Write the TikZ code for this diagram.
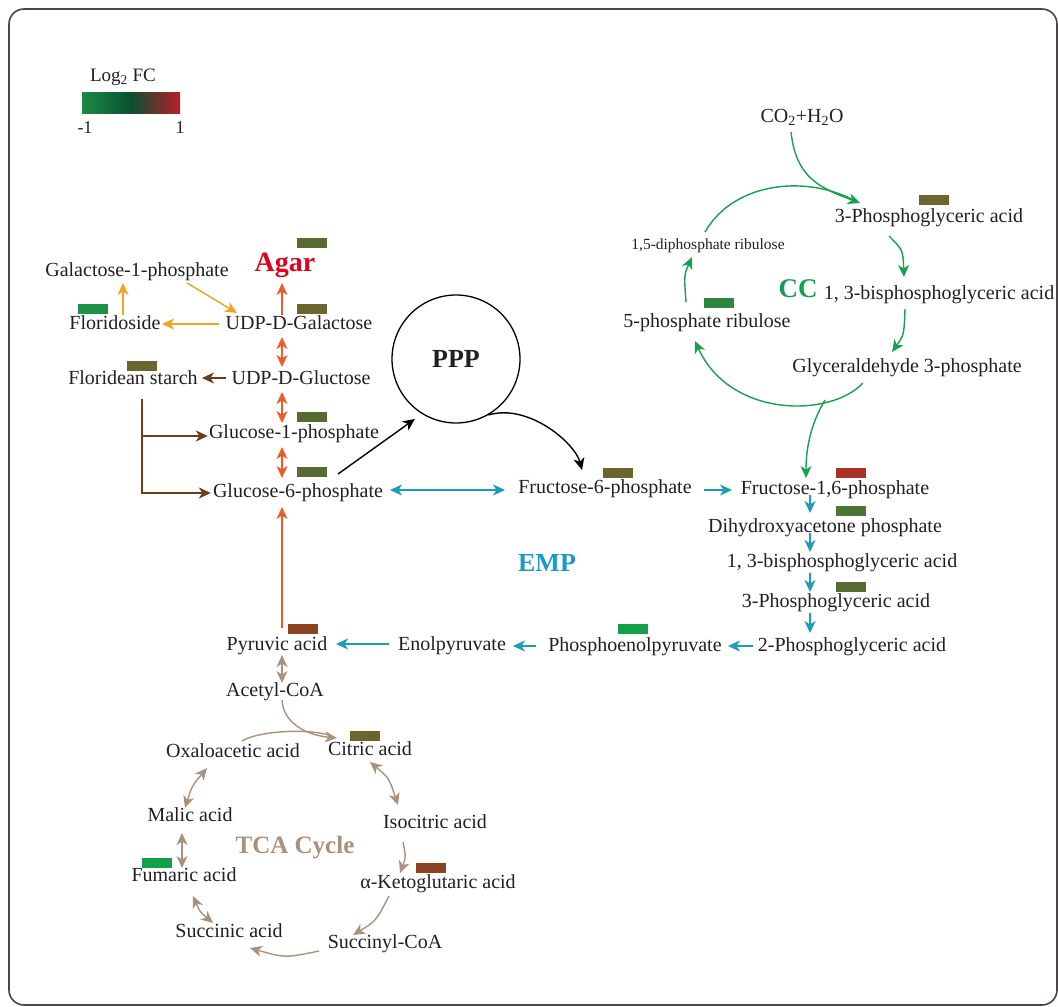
\documentclass[tikz,border=0pt]{standalone}
\usepackage{fontspec}
\setmainfont{Liberation Serif}
\usetikzlibrary{arrows.meta,calc}
\definecolor{txt}{HTML}{231F20}
\definecolor{frame}{HTML}{4D4545}
\definecolor{agarred}{HTML}{E3001B}
\definecolor{empcyan}{HTML}{1A9AC8}
\definecolor{ccgreen}{HTML}{12A050}
\definecolor{tcatan}{HTML}{A8927E}
\definecolor{orangeA}{HTML}{F2A324}
\definecolor{redA}{HTML}{F05A28}
\definecolor{brownA}{HTML}{6B3E1A}
\definecolor{cyanA}{HTML}{1E9BB5}
\definecolor{greenA}{HTML}{16A050}
\definecolor{oliveA}{HTML}{6B6530}
\definecolor{oliveB}{HTML}{566B32}
\definecolor{fgreen}{HTML}{1F9048}
\definecolor{mgreen}{HTML}{2E8540}
\definecolor{dgreen}{HTML}{4A7535}
\definecolor{bgreen}{HTML}{12A04A}
\definecolor{redbar}{HTML}{A83226}
\definecolor{brownbar}{HTML}{8B4422}
\definecolor{lgL}{HTML}{1B8A45}
\definecolor{lgM}{HTML}{0A5030}
\definecolor{lgR}{HTML}{B81E2A}
\begin{document}
\begin{tikzpicture}[x=1pt,y=-1pt,
  lbl/.style={font=\fontsize{20}{24}\selectfont, text=txt, inner sep=0pt, text height=14pt, text depth=4pt},
  bold/.style={inner sep=0pt, text depth=0pt},
  bar/.style={inner sep=0pt, minimum width=30pt, minimum height=10pt, draw=none},
  conn/.style={line width=1.4pt},
  tip/.style={conn, -{Stealth[length=12pt,width=11pt,inset=3.5pt]}},
  dtip/.style={conn, {Stealth[length=12pt,width=11pt,inset=3.5pt]}-{Stealth[length=12pt,width=11pt,inset=3.5pt]}}
]
\useasboundingbox (0,0) rectangle (1058,1007);
\draw[frame, line width=1.6pt, rounded corners=15pt] (9,9) rectangle (1057,1005);

% legend
\node[font=\fontsize{19}{22}\selectfont, text=txt, inner sep=0pt] (lfc) at (123,77) {Log\textsubscript{2} FC};
\node[inner sep=0pt, minimum width=98pt, minimum height=21pt, left color=lgL, right color=lgR, middle color=lgM] (lgbar) at (131,102.5) {};
\node[font=\fontsize{18}{20}\selectfont, text=txt, inner sep=0pt] (lmin) at (85,128) {-1};
\node[font=\fontsize{18}{20}\selectfont, text=txt, inner sep=0pt] (lmax) at (180,128) {1};

% Agar part
\node[lbl] (gal1p) at (137,271) {Galactose-1-phosphate};
\node[bold, font=\bfseries\fontsize{28}{30}\selectfont, text=agarred, text height=19pt] (agar) at (285,261.5) {Agar};
\node[lbl] (flor) at (115,324) {Floridoside};
\node[lbl] (udpgal) at (299,324) {UDP-D-Galactose};
\node[lbl] (fstarch) at (133,379) {Floridean starch};
\node[lbl] (udpglc) at (301,379) {UDP-D-Gluctose};
\node[lbl] (g1p) at (294,433) {Glucose-1-phosphate};
\node[lbl] (g6p) at (298,492) {Glucose-6-phosphate};

% PPP
\node[draw=black, circle, line width=1.3pt, minimum size=128pt, inner sep=0pt, font=\bfseries\fontsize{26}{28}\selectfont, text=txt] (ppp) at (456,359) {PPP};

% EMP
\node[lbl] (f6p) at (605,488) {Fructose-6-phosphate};
\node[lbl] (f16p) at (835,489) {Fructose-1,6-phosphate};
\node[lbl] (dhap) at (825,527) {Dihydroxyacetone phosphate};
\node[lbl] (bpg) at (842,562) {1, 3-bisphosphoglyceric acid};
\node[lbl] (pga) at (836,602) {3-Phosphoglyceric acid};
\node[lbl] (pga2) at (852,646) {2-Phosphoglyceric acid};
\node[lbl] (pep) at (635,646) {Phosphoenolpyruvate};
\node[lbl] (enol) at (452,645) {Enolpyruvate};
\node[lbl] (pyr) at (277,645) {Pyruvic acid};
\node[bold, font=\bfseries\fontsize{26}{28}\selectfont, text=empcyan, text height=17pt] (emp) at (547,563) {EMP};

% TCA
\node[lbl] (acoa) at (275,691) {Acetyl-CoA};
\node[lbl] (cit) at (370,750) {Citric acid};
\node[lbl] (oxa) at (233,752) {Oxaloacetic acid};
\node[lbl] (iso) at (435,823) {Isocitric acid};
\node[lbl] (akg) at (438,883) {α-Ketoglutaric acid};
\node[lbl] (succoa) at (385,943) {Succinyl-CoA};
\node[lbl] (succ) at (229,932) {Succinic acid};
\node[lbl] (fum) at (184,876) {Fumaric acid};
\node[lbl] (mal) at (190,816) {Malic acid};
\node[bold, font=\bfseries\fontsize{25}{27}\selectfont, text=tcatan, text height=16.5pt] (tca) at (295,845) {TCA Cycle};

% CC
\node[lbl] (co2) at (802,117) {CO\textsubscript{2}+H\textsubscript{2}O};
\node[lbl] (cpga) at (929,217) {3-Phosphoglyceric acid};
\node[bold, font=\bfseries\fontsize{27}{29}\selectfont, text=ccgreen, text height=18pt] (cc) at (798,288) {CC};
\node[lbl] (cbpg) at (939,294) {1, 3-bisphosphoglyceric acid};
\node[lbl] (ga3p) at (907,367) {Glyceraldehyde 3-phosphate};
\node[lbl] (ru5p) at (707,322) {5-phosphate ribulose};
\node[lbl, font=\fontsize{15.5}{18}\selectfont, text height=11pt, text depth=3pt] (rubp) at (708,245) {1,5-diphosphate ribulose};

% bars
\node[bar, fill=oliveB] (bagar) at (312,243) {};
\node[bar, fill=oliveA] (budpgal) at (312,309) {};
\node[bar, fill=fgreen] (bflor) at (93,309) {};
\node[bar, fill=oliveA] (bfstarch) at (142,366) {};
\node[bar, fill=oliveB] (bg1p) at (312,417) {};
\node[bar, fill=oliveB] (bg6p) at (312,472) {};
\node[bar, fill=oliveA] (bf6p) at (618,473) {};
\node[bar, fill=redbar] (bf16p) at (851,473) {};
\node[bar, fill=dgreen] (bdhap) at (851,511) {};
\node[bar, fill=oliveB] (bpga) at (851,587) {};
\node[bar, fill=bgreen] (bpep) at (633,629) {};
\node[bar, fill=brownbar] (bpyr) at (303,629) {};
\node[bar, fill=oliveA] (bcit) at (365,736) {};
\node[bar, fill=brownbar] (bakg) at (431,868) {};
\node[bar, fill=bgreen] (bfum) at (157,863) {};
\node[bar, fill=oliveA] (bcpga) at (934,200) {};
\node[bar, fill=mgreen] (bru5p) at (719,303) {};

% Agar connectors
\draw[orangeA, tip] ($(flor)+(8,-9)$) -- ($(gal1p)+(-14,12)$);
\draw[orangeA, tip] ($(gal1p)+(50,12)$) -- ($(udpgal)+(-62,-11)$);
\draw[orangeA, tip] ($(udpgal)+(-80,0)$) -- ($(flor)+(47,0)$);
\draw[redA, tip] ($(udpgal)+(-17,-9)$) -- ($(agar)+(-3,21.5)$);
\draw[redA, dtip] ($(udpgal)+(-17,13)$) -- ($(udpglc)+(-19,-12)$);
\draw[brownA, tip] ($(udpglc)+(-75,-1)$) -- ($(fstarch)+(69,-1)$);
\draw[redA, dtip] ($(udpglc)+(-19,13)$) -- ($(g1p)+(-12,-10)$);
\draw[redA, dtip] ($(g1p)+(-12,14)$) -- ($(g6p)+(-16,-14)$);
\coordinate (fsx) at ($(fstarch)+(9,20)$);
\draw[brownA, tip] (fsx) |- ($(g6p.west)+(-2,1)$);
\draw[brownA, tip] ($(fsx |- g1p)+(0,3)$) -- ($(g1p.west)+(-1,3)$);

% PPP connectors
\draw[black, tip] ($(g6p)+(40,-18)$) -- ($(ppp.235)+(-4,7)$);
\draw[black, tip] (ppp.-60) .. controls ($(ppp.-60)+(40,-12)$) and ($(f6p)+(-30,-45)$) .. ($(f6p)+(-23,-18)$);

% EMP connectors
\draw[cyanA, dtip] ($(g6p)+(92,-2)$) -- ($(f6p)+(-100,2)$);
\draw[cyanA, tip] ($(f6p)+(99,2)$) -- ($(f16p)+(-103,1)$);
\draw[cyanA, tip] ($(f16p)+(-25,6)$) -- ($(dhap)+(-15,-14)$);
\draw[cyanA, tip] ($(dhap)+(-15,6)$) -- ($(bpg)+(-32,-10)$);
\draw[cyanA, tip] ($(bpg)+(-32,11)$) -- ($(pga)+(-26,-10)$);
\draw[cyanA, tip] ($(pga)+(-26,11)$) -- ($(pga2)+(-42,-13)$);
\draw[cyanA, tip] ($(pga2)+(-99,0)$) -- ($(pep)+(93,0)$);
\draw[cyanA, tip] ($(pep)+(-99,0)$) -- ($(enol)+(61,1)$);
\draw[cyanA, tip] ($(enol)+(-63,-1)$) -- ($(pyr)+(59,-1)$);
\draw[redA, tip] ($(pyr)+(5,-17)$) -- ($(g6p)+(-16,15)$);

% TCA connectors
\draw[tcatan, dtip] ($(pyr)+(5,10)$) -- ($(acoa)+(7,-8)$);
\draw[tcatan, tip] ($(acoa)+(7,9)$) .. controls ($(acoa)+(8,31)$) and ($(cit)+(-65,-15)$) .. ($(cit)+(-33,-12)$);
\draw[tcatan, conn] ($(oxa)+(9,-11)$) .. controls ($(oxa)+(27,-22)$) and ($(cit)+(-55,-22)$) .. ($(cit)+(-36,-13)$);
\draw[tcatan, dtip] ($(cit)+(0,12)$) .. controls ($(cit)+(19,28)$) .. ($(iso)+(-37,-18)$);
\draw[tcatan, tip] ($(iso)+(-32,19)$) .. controls ($(iso)+(-29,34)$) .. ($(akg)+(-38,-10)$);
\draw[tcatan, tip] ($(akg)+(-49,13)$) .. controls ($(akg)+(-62,38)$) .. ($(succoa)+(-32,-8)$);
\draw[tcatan, tip] ($(succoa)+(-66,8)$) .. controls ($(succoa)+(-100,15)$) .. ($(succ)+(21,16)$);
\draw[tcatan, dtip] ($(succ)+(-16,-9)$) .. controls ($(succ)+(-29,-20)$) .. ($(fum)+(9,20)$);
\draw[tcatan, dtip] ($(fum)+(-2,-8)$) -- ($(mal)+(-8,17)$);
\draw[tcatan, dtip] ($(mal)+(-5,-8)$) .. controls ($(mal)+(2,-30)$) .. ($(oxa)+(-26,16)$);

% CC connectors
\draw[greenA, tip] ($(co2)+(-11,15)$) .. controls ($(co2)+(-6,61)$) and ($(cpga)+(-109,-29)$) .. ($(cpga)+(-69,-14)$);
\draw[greenA, conn] ($(rubp)+(-3,-13)$) .. controls ($(rubp)+(27,-65)$) and ($(cpga)+(-119,-42)$) .. ($(cpga)+(-72,-15)$);
\draw[greenA, tip] ($(cpga)+(-40,19)$) .. controls ($(cpga)+(-26,33)$) .. ($(cbpg)+(-35,-17)$);
\draw[greenA, tip] ($(cbpg)+(-34,15)$) .. controls ($(cbpg)+(-35,41)$) .. ($(ga3p)+(-15,-15)$);
\draw[greenA, tip] ($(ga3p)+(-44,16)$) .. controls ($(ga3p)+(-77,51)$) and ($(ru5p)+(23,96)$) .. ($(ru5p)+(-12,19)$);
\coordinate (brs) at (825,400);
\draw[greenA, tip] (brs) .. controls ($(brs)+(-15,25)$) and ($(f16p)+(-29,-39)$) .. ($(f16p)+(-29,-11)$);
\draw[greenA, tip] ($(ru5p)+(-21,-20)$) .. controls ($(ru5p)+(-23,-47)$) .. ($(rubp)+(-16,12)$);
\end{tikzpicture}
\end{document}
